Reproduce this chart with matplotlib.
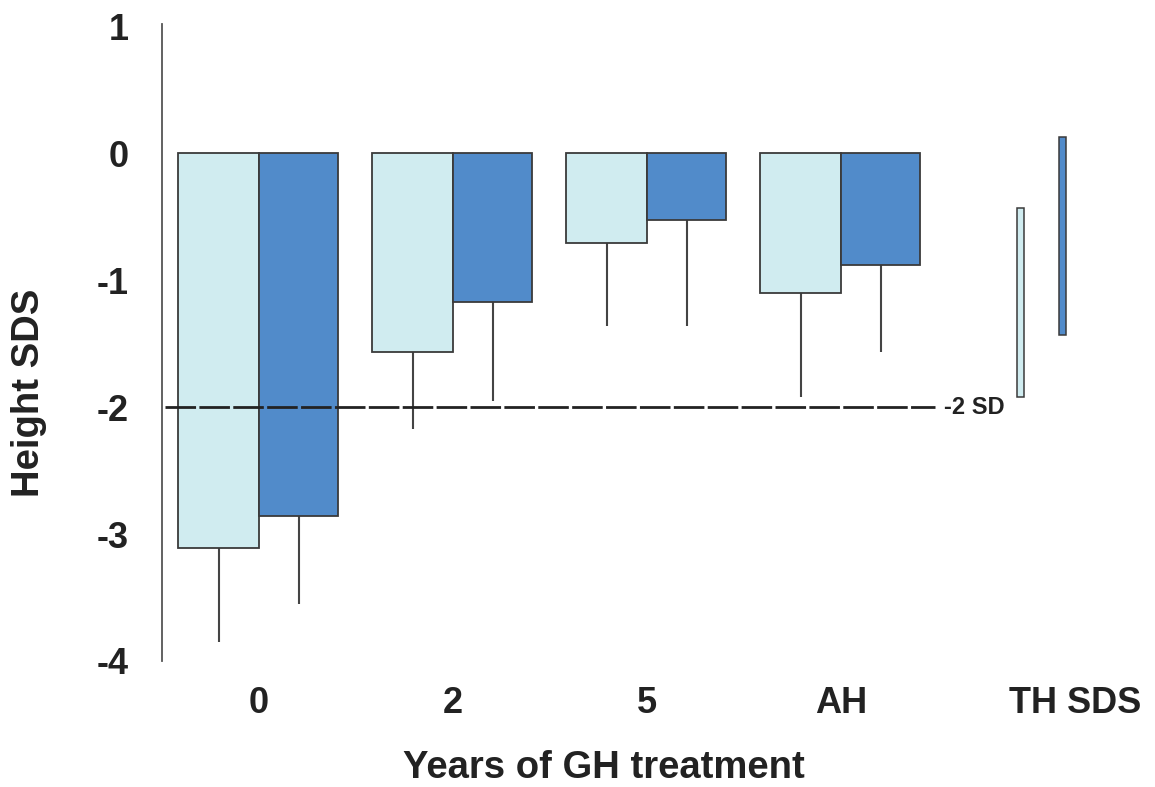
import matplotlib
matplotlib.use("Agg")
import matplotlib.pyplot as plt
import numpy as np

plt.rcParams['font.family'] = ['Liberation Sans', 'DejaVu Sans']

# ---- data ----
categories = ["0", "2", "5", "AH"]
light_values = [-3.11, -1.57, -0.71, -1.10]
dark_values = [-2.86, -1.17, -0.53, -0.88]
light_whisker = [-3.85, -2.17, -1.36, -1.92]
dark_whisker = [-3.55, -1.95, -1.36, -1.57]
th_label = "TH SDS"
th_light_range = [-0.43, -1.92]   # top, bottom
th_dark_range = [0.13, -1.43]
ref_line_value = -2.0
ref_label = "-2 SD"
yticks = [1, 0, -1, -2, -3, -4]

light_color = "#d0ecf0"
dark_color = "#518bca"
edge = "#3a3a3a"
text_color = "#222222"

fig = plt.figure(figsize=(11.55, 7.87), dpi=100)
ax = fig.add_axes([162 / 1155, 1 - 661 / 787, 1 - 162 / 1155, (661 - 24) / 787])

x = np.arange(len(categories))
w = 0.415
ax.bar(x - w, light_values, width=w, align='edge', color=light_color,
       edgecolor=edge, linewidth=1.3, zorder=2)
ax.bar(x, dark_values, width=0.41, align='edge', color=dark_color,
       edgecolor=edge, linewidth=1.3, zorder=2)
ax.vlines(x - w / 2, light_whisker, light_values, color="#444444", linewidth=1.5, zorder=1)
ax.vlines(x + 0.41 / 2, dark_whisker, dark_values, color="#444444", linewidth=1.5, zorder=1)

# TH SDS thin bars (ranges)
th_x_light = 3.925
th_x_dark = 4.143
ax.bar([th_x_light], [th_light_range[0] - th_light_range[1]], bottom=[th_light_range[1]],
       width=0.037, color=light_color, edgecolor=edge, linewidth=1.1, zorder=2)
ax.bar([th_x_dark], [th_dark_range[0] - th_dark_range[1]], bottom=[th_dark_range[1]],
       width=0.032, color=dark_color, edgecolor=edge, linewidth=1.1, zorder=2)

# reference line
ax.plot([-0.485, 3.485], [ref_line_value, ref_line_value], color="#222222",
        linewidth=2, dashes=(11, 1.2), zorder=3)
ax.text(3.53, ref_line_value, ref_label, fontsize=17, fontweight='bold',
        color=text_color, va='center', ha='left')

ax.set_xlim(-0.5, 4.62)
ax.set_ylim(-4, 1.016)
ax.set_yticks(yticks)
ax.set_yticklabels([str(t) for t in yticks])
ax.set_xticks(list(x) + [4.21])
ax.set_xticklabels(categories + [th_label])
ax.tick_params(axis='both', length=0, labelsize=26, labelcolor=text_color)
ax.tick_params(axis='y', pad=24)
ax.tick_params(axis='x', pad=18)
for lab in ax.get_xticklabels() + ax.get_yticklabels():
    lab.set_fontweight('bold')

for s in ['top', 'right', 'bottom']:
    ax.spines[s].set_visible(False)
ax.spines['left'].set_color("#555555")
ax.spines['left'].set_linewidth(1.3)

fig.text(29 / 1155, 1 - 393 / 787, "Height SDS", rotation=90, fontsize=27.5,
         fontweight='bold', color=text_color, ha='center', va='center')
fig.text(604 / 1155, 1 - 778 / 787, "Years of GH treatment", fontsize=27.5,
         fontweight='bold', color=text_color, ha='center', va='baseline')

fig.savefig("out.png", dpi=100)
